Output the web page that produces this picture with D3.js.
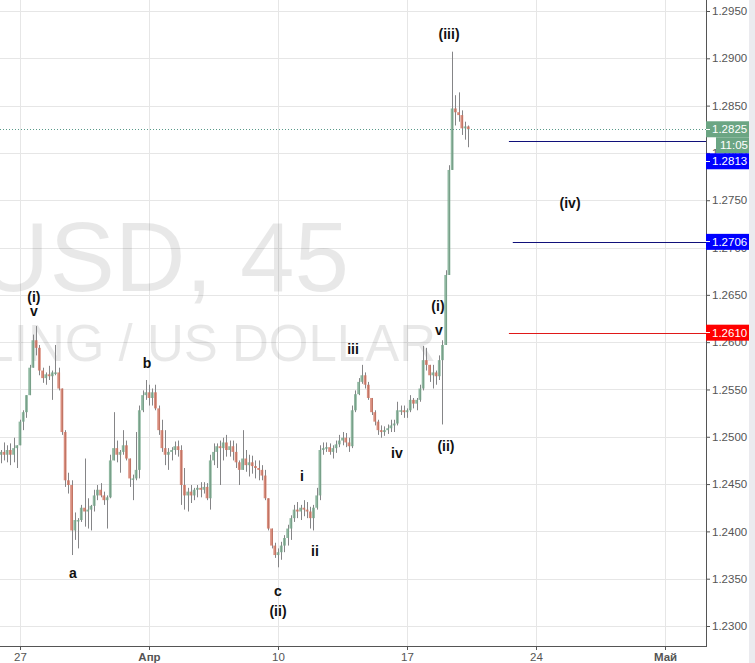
<!DOCTYPE html>
<html>
<head>
<meta charset="utf-8">
<script src="https://cdnjs.cloudflare.com/ajax/libs/d3/7.8.5/d3.min.js"></script>
<style>
body { margin: 0; background: #fff; }
svg { display: block; font-family: Arial, "Liberation Sans", sans-serif; }
</style>
</head>
<body>
<div id="chart"></div>
<script>
// GBPUSD 45, grouped into 3h candles
var firstOpen = 1.2481;
var barStart = -0.75;   // trading days from 27 Mar
var barDays = 0.125;

var highs = [
1.2486,1.2494,1.2491,1.2493,1.2499,1.2491,1.2518,1.2528,1.2544,1.2576,
1.2608,1.2617,1.2597,1.2573,1.2568,1.2575,1.2570,1.2597,1.2573,1.2551,
1.2507,1.2462,1.2454,1.2420,1.2414,1.2428,1.2477,1.2435,1.2428,1.2444,
1.2449,1.2451,1.2442,1.2438,1.2481,1.2526,1.2496,1.2486,1.2507,1.2496,
1.2477,1.2460,1.2505,1.2533,1.2549,1.2560,1.2555,1.2551,1.2555,1.2533,
1.2518,1.2507,1.2488,1.2489,1.2495,1.2496,1.2491,1.2467,1.2446,1.2449,
1.2446,1.2449,1.2452,1.2452,1.2451,1.2481,1.2493,1.2493,1.2496,1.2499,
1.2502,1.2496,1.2496,1.2493,1.2475,1.2507,1.2486,1.2481,1.2480,1.2475,
1.2475,1.2470,1.2465,1.2435,1.2403,1.2388,1.2382,1.2389,1.2396,1.2407,
1.2417,1.2428,1.2431,1.2428,1.2433,1.2431,1.2426,1.2428,1.2446,1.2491,
1.2494,1.2494,1.2493,1.2491,1.2496,1.2502,1.2505,1.2504,1.2499,1.2533,
1.2549,1.2562,1.2576,1.2568,1.2558,1.2541,1.2528,1.2518,1.2512,1.2511,
1.2513,1.2518,1.2518,1.2537,1.2533,1.2533,1.2530,1.2544,1.2541,1.2541,
1.2555,1.2596,1.2594,1.2576,1.2576,1.2570,1.2586,1.2602,1.2676,1.2787,
1.2907,1.2861,1.2864,1.2845,1.2833,1.2829];

var lows = [
1.2472,1.2475,1.2473,1.2470,1.2473,1.2467,1.2491,1.2507,1.2520,1.2547,
1.2576,1.2586,1.2565,1.2557,1.2555,1.2560,1.2539,1.2565,1.2549,1.2502,
1.2447,1.2440,1.2375,1.2391,1.2382,1.2410,1.2405,1.2403,1.2401,1.2421,
1.2433,1.2436,1.2428,1.2403,1.2435,1.2475,1.2473,1.2462,1.2481,1.2475,
1.2447,1.2433,1.2454,1.2456,1.2526,1.2539,1.2533,1.2533,1.2528,1.2502,
1.2484,1.2470,1.2465,1.2475,1.2481,1.2479,1.2428,1.2423,1.2421,1.2430,
1.2433,1.2436,1.2436,1.2440,1.2433,1.2423,1.2470,1.2467,1.2449,1.2475,
1.2479,1.2479,1.2475,1.2467,1.2449,1.2465,1.2463,1.2458,1.2461,1.2456,
1.2454,1.2454,1.2433,1.2401,1.2382,1.2372,1.2362,1.2370,1.2378,1.2385,
1.2391,1.2410,1.2414,1.2412,1.2416,1.2414,1.2403,1.2401,1.2423,1.2433,
1.2481,1.2484,1.2481,1.2477,1.2483,1.2489,1.2491,1.2489,1.2484,1.2488,
1.2526,1.2544,1.2556,1.2551,1.2539,1.2523,1.2512,1.2502,1.2499,1.2501,
1.2503,1.2505,1.2505,1.2512,1.2523,1.2520,1.2520,1.2526,1.2530,1.2528,
1.2537,1.2549,1.2570,1.2558,1.2551,1.2555,1.2560,1.2513,1.2597,1.2671,
1.2782,1.2829,1.2833,1.2819,1.2814,1.2806];

var closes = [
1.2484,1.2481,1.2486,1.2481,1.2488,1.2491,1.2516,1.2526,1.2544,1.2573,
1.2602,1.2594,1.2570,1.2562,1.2566,1.2564,1.2568,1.2568,1.2551,1.2505,
1.2454,1.2449,1.2401,1.2412,1.2412,1.2425,1.2421,1.2423,1.2427,1.2438,
1.2444,1.2438,1.2433,1.2436,1.2475,1.2488,1.2481,1.2484,1.2491,1.2477,
1.2456,1.2456,1.2465,1.2528,1.2544,1.2547,1.2541,1.2547,1.2530,1.2507,
1.2488,1.2481,1.2484,1.2486,1.2490,1.2486,1.2449,1.2438,1.2442,1.2438,
1.2444,1.2446,1.2444,1.2447,1.2435,1.2475,1.2484,1.2490,1.2488,1.2494,
1.2486,1.2490,1.2484,1.2473,1.2465,1.2477,1.2470,1.2473,1.2469,1.2467,
1.2465,1.2459,1.2435,1.2403,1.2385,1.2375,1.2378,1.2385,1.2393,1.2403,
1.2414,1.2423,1.2421,1.2425,1.2423,1.2421,1.2414,1.2425,1.2438,1.2486,
1.2488,1.2489,1.2484,1.2488,1.2492,1.2496,1.2499,1.2494,1.2490,1.2528,
1.2545,1.2558,1.2565,1.2555,1.2541,1.2526,1.2516,1.2507,1.2505,1.2507,
1.2509,1.2512,1.2514,1.2528,1.2528,1.2526,1.2528,1.2539,1.2535,1.2539,
1.2551,1.2581,1.2576,1.2565,1.2568,1.2564,1.2581,1.2597,1.2671,1.2782,
1.2847,1.2843,1.2840,1.2826,1.2828,1.2825];

var priceTicks = [1.2300,1.2350,1.2400,1.2450,1.2500,1.2550,1.2600,1.2650,1.2700,1.2750,1.2800,1.2850,1.2900,1.2950];
var dateTicks = [0, 5, 10, 15, 20, 25];
var dateLabels = ["27", "Апр", "10", "17", "24", "Май"];
var monthTicks = ["Апр", "Май"];

// horizontal rays drawn on the chart
var levelPrices = [1.2813, 1.2706, 1.2610];
var levelStart = [18.95, 19.1, 18.95];
var countdown = "11:05";

// elliott wave marks: text, day, price
var waveText  = ["(iii)", "(iv)", "(i)", "v", "b", "a", "c", "(ii)", "i", "ii", "iii", "iv", "(i)", "v", "(ii)"];
var waveDay   = [16.63, 21.32, 0.54, 0.54, 4.92, 2.05, 10.0, 10.0, 10.93, 11.43, 12.91, 14.61, 16.2, 16.24, 16.51];
var wavePrice = [1.2926, 1.2747, 1.2648, 1.2633, 1.2578, 1.2356, 1.2337, 1.2316, 1.2458, 1.2379, 1.2593, 1.2483, 1.2638, 1.2613, 1.2490];

var W = 755, H = 663, paneW = 706, paneH = 646;

var candles = closes.map(function(c, i){
    var o = i == 0 ? firstOpen : closes[i-1];
    return {i: i, o: o, h: highs[i], l: lows[i], c: c};
});

var svg = d3.select("#chart").append("svg")
    .attr("width", W).attr("height", H);

var x = d3.scaleLinear().domain([0, 25]).range([20, 665]);
var y = d3.scaleLinear().domain([1.2300, 1.2950]).range([626, 11]);
var px = function(v){ return Math.round(v) + 0.5; };

svg.append("defs").append("clipPath").attr("id", "pane")
  .append("rect").attr("width", paneW).attr("height", paneH);

// grid
var grid = svg.append("g").attr("stroke", "#e6e6e6").attr("stroke-width", 1);
grid.selectAll(".hg").data(priceTicks).enter().append("line")
    .attr("x1", 0).attr("x2", paneW)
    .attr("y1", d => px(y(d))).attr("y2", d => px(y(d)));
grid.selectAll(".vg").data(dateTicks).enter().append("line")
    .attr("y1", 0).attr("y2", paneH)
    .attr("x1", d => px(x(d))).attr("x2", d => px(x(d)));

// watermark
svg.append("text")
    .attr("x", 349).attr("y", 291)
    .attr("text-anchor", "end")
    .style("font-size", "98px")
    .attr("fill", "rgba(0,0,0,0.09)")
    .text("GBPUSD, 45");
svg.append("text")
    .attr("x", 436).attr("y", 361)
    .attr("text-anchor", "end")
    .style("font-size", "51px")
    .attr("fill", "rgba(0,0,0,0.09)")
    .text("POUND STERLING / US DOLLAR");

// candles
var plot = svg.append("g").attr("clip-path", "url(#pane)");
var bx = function(d){ return x(barStart + d.i * barDays); };

plot.selectAll(".wick").data(candles).enter().append("line")
    .attr("class", "wick")
    .attr("x1", d => px(bx(d))).attr("x2", d => px(bx(d)))
    .attr("y1", d => y(Math.max(d.h, d.o, d.c)))
    .attr("y2", d => y(Math.min(d.l, d.o, d.c)))
    .attr("stroke", "#858587").attr("stroke-width", 1);

plot.selectAll(".body").data(candles).enter().append("rect")
    .attr("class", "body")
    .attr("x", d => bx(d) - 1.4)
    .attr("width", 2.8)
    .attr("y", d => y(Math.max(d.o, d.c)))
    .attr("height", d => Math.max(1.5, Math.abs(y(d.o) - y(d.c))))
    .attr("fill", d => d.c >= d.o ? "#74a68a" : "#d0705c")
    .attr("opacity", 0.8);

// current price dotted line
var last = closes[closes.length - 1];
svg.append("line")
    .attr("x1", 0).attr("x2", paneW)
    .attr("y1", px(y(last))).attr("y2", px(y(last)))
    .attr("stroke", "#5a9a8a").attr("stroke-dasharray", "1,2");

// level rays
var levelColor = ["#10107a", "#10107a", "#e01818"];
svg.selectAll(".level").data(levelPrices).enter().append("line")
    .attr("x1", (d, i) => x(levelStart[i])).attr("x2", paneW)
    .attr("y1", d => px(y(d))).attr("y2", d => px(y(d)))
    .attr("stroke", (d, i) => levelColor[i]).attr("stroke-width", 1);

// wave labels
svg.selectAll(".wave").data(waveText).enter().append("text")
    .attr("x", (d, i) => x(waveDay[i]))
    .attr("y", (d, i) => y(wavePrice[i]))
    .attr("dy", "0.35em")
    .attr("text-anchor", "middle")
    .style("font-size", "14px").style("font-weight", "bold")
    .attr("fill", "#111")
    .text(d => d);

// price axis
svg.append("g")
    .attr("transform", "translate(" + paneW + ",0)")
    .call(d3.axisRight(y).tickValues(priceTicks).tickFormat(d3.format(".4f")).tickSize(4).tickPadding(2))
    .call(g => g.select(".domain").remove())
    .call(g => g.selectAll(".tick line").attr("stroke", "#555"))
    .call(g => g.selectAll(".tick text").attr("fill", "#555").style("font-size", "11.5px").style("font-family", "Arial, 'Liberation Sans', sans-serif"));

// date axis
svg.append("g")
    .attr("transform", "translate(0," + paneH + ")")
    .call(d3.axisBottom(x).tickValues(dateTicks).tickFormat((d, i) => dateLabels[i]).tickSize(4).tickPadding(3))
    .call(g => g.select(".domain").remove())
    .call(g => g.selectAll(".tick line").attr("stroke", "#555"))
    .call(g => g.selectAll(".tick text").attr("fill", "#555").style("font-size", "11.5px")
        .style("font-family", "Arial, 'Liberation Sans', sans-serif")
        .style("font-weight", function(d, i){ return monthTicks.indexOf(dateLabels[i]) >= 0 ? "bold" : "normal"; }));

// axis lines
svg.append("line").attr("x1", px(paneW)).attr("x2", px(paneW)).attr("y1", 0).attr("y2", paneH + 1)
    .attr("stroke", "#555");
svg.append("line").attr("x1", 0).attr("x2", paneW).attr("y1", px(paneH)).attr("y2", px(paneH))
    .attr("stroke", "#555");

// right strip
svg.append("rect").attr("x", 749).attr("y", 0).attr("width", 6).attr("height", H).attr("fill", "#ebebef");

// price tags
function tag(fill, text, x0, yy){
    var g = svg.append("g");
    g.append("rect").attr("x", x0).attr("y", yy - 8).attr("width", 749 - x0).attr("height", 16).attr("fill", fill);
    if (x0 == paneW) {
        g.append("line").attr("x1", paneW).attr("x2", paneW + 4).attr("y1", px(yy - 0.5)).attr("y2", px(yy - 0.5)).attr("stroke", "#fff");
    }
    g.append("text").attr("x", x0 == paneW ? 712 : 720).attr("y", yy).attr("dy", "0.36em")
        .attr("fill", "#fff").style("font-size", "11.5px").text(text);
}
var fmt = d3.format(".4f");
var lastY = y(last);
tag("#6ba583", fmt(last), paneW, lastY);
tag("#6ba583", countdown, 716, lastY + 16);
tag("#0000ff", fmt(levelPrices[0]), paneW, Math.max(y(levelPrices[0]), lastY + 32));
tag("#0000ff", fmt(levelPrices[1]), paneW, y(levelPrices[1]));
tag("#ff0000", fmt(levelPrices[2]), paneW, y(levelPrices[2]));
</script>
</body>
</html>
